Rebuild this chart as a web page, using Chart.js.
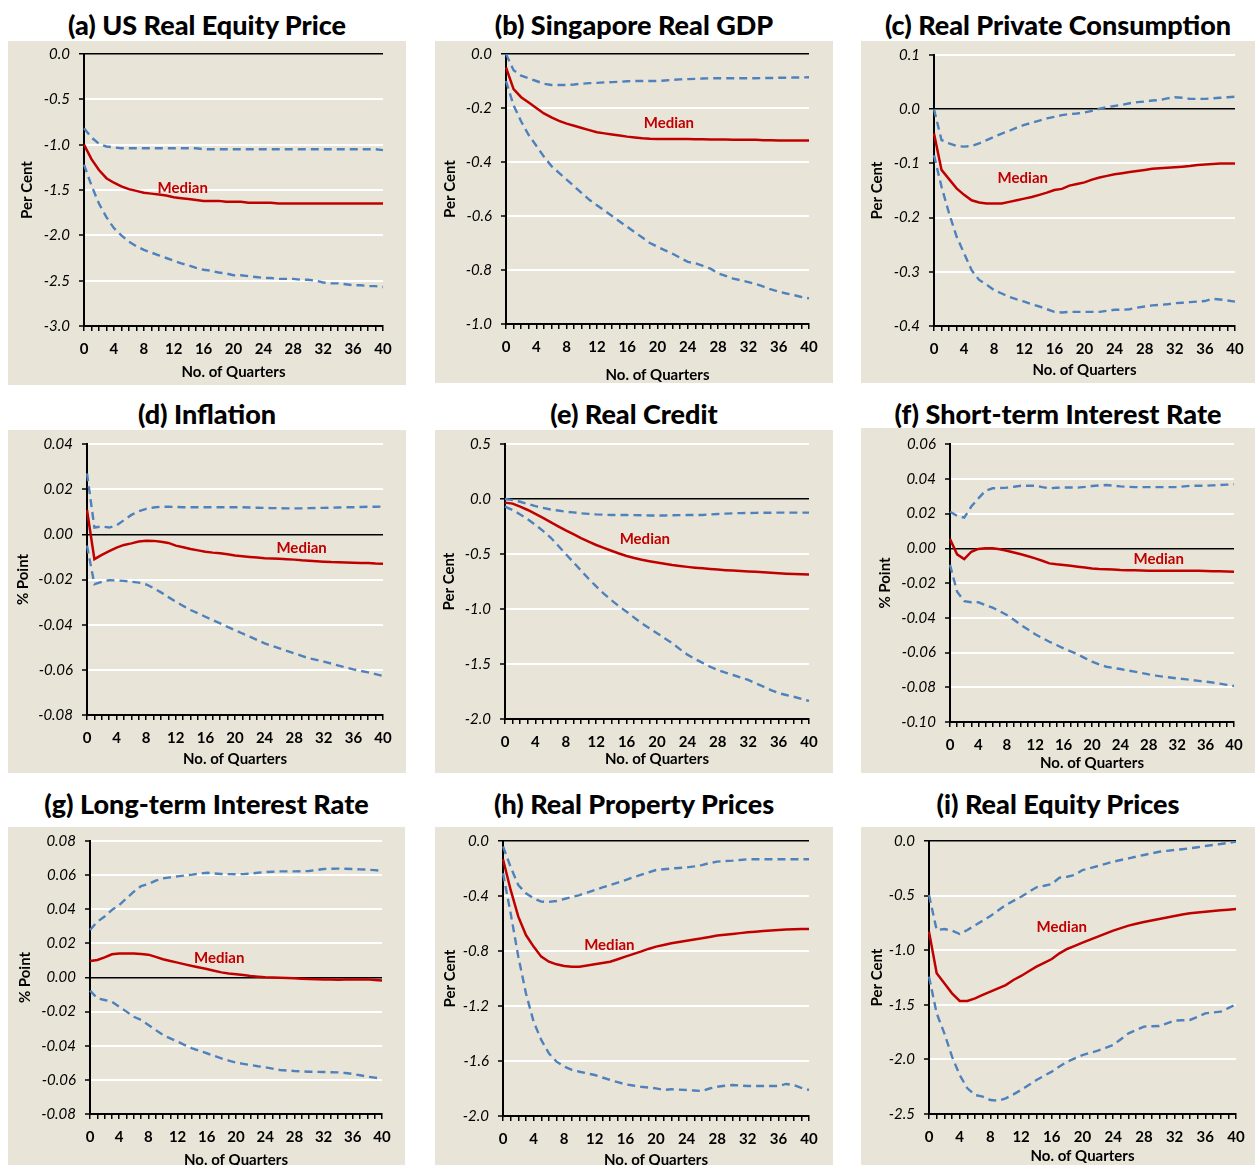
<!DOCTYPE html>
<html>
<head>
<meta charset="utf-8">
<script src="https://cdn.jsdelivr.net/npm/chart.js@4.4.1/dist/chart.umd.min.js"></script>
<style>
  body { margin: 0; background: #fff; width: 1255px; height: 1165px; overflow: hidden; position: relative; font-family: Lato, sans-serif; }
  canvas { position: absolute; background: #E8E5D8; }
  .title { position: absolute; font-weight: 900; font-size: 27px; white-space: nowrap; transform: translate(-50%, -50%); color: #000; }
</style>
</head>
<body>
<script>
// quarters after the shock
const QUARTERS = [0,1,2,3,4,5,6,7,8,9,10,11,12,13,14,15,16,17,18,19,20,21,22,23,24,25,26,27,28,29,30,31,32,33,34,35,36,37,38,39,40];

// (a) US real equity price
const A_UPPER = [-0.82,-0.92,-0.99,-1.02,-1.03,-1.04,-1.04,-1.04,-1.04,-1.04,-1.04,-1.04,-1.04,-1.04,-1.04,-1.04,-1.05,-1.05,-1.05,-1.05,-1.05,-1.05,-1.05,-1.05,-1.05,-1.05,-1.05,-1.05,-1.05,-1.05,-1.05,-1.05,-1.05,-1.05,-1.05,-1.05,-1.05,-1.05,-1.05,-1.05,-1.06];
const A_MEDIAN = [-1.00,-1.16,-1.28,-1.37,-1.42,-1.46,-1.49,-1.51,-1.53,-1.54,-1.55,-1.56,-1.58,-1.59,-1.60,-1.61,-1.62,-1.62,-1.62,-1.63,-1.63,-1.63,-1.64,-1.64,-1.64,-1.64,-1.65,-1.65,-1.65,-1.65,-1.65,-1.65,-1.65,-1.65,-1.65,-1.65,-1.65,-1.65,-1.65,-1.65,-1.65];
const A_LOWER = [-1.22,-1.45,-1.65,-1.80,-1.92,-2.00,-2.07,-2.12,-2.16,-2.19,-2.22,-2.25,-2.28,-2.31,-2.33,-2.36,-2.38,-2.39,-2.41,-2.42,-2.44,-2.44,-2.45,-2.46,-2.47,-2.47,-2.48,-2.48,-2.48,-2.49,-2.49,-2.50,-2.52,-2.53,-2.53,-2.54,-2.55,-2.55,-2.56,-2.56,-2.57];

// (b) Singapore real GDP
const B_UPPER = [0,-0.06,-0.08,-0.09,-0.10,-0.11,-0.115,-0.115,-0.115,-0.113,-0.11,-0.108,-0.107,-0.105,-0.104,-0.103,-0.101,-0.10,-0.10,-0.10,-0.10,-0.098,-0.096,-0.094,-0.093,-0.092,-0.091,-0.09,-0.09,-0.09,-0.09,-0.09,-0.09,-0.09,-0.089,-0.089,-0.088,-0.088,-0.087,-0.087,-0.086];
const B_MEDIAN = [-0.05,-0.13,-0.16,-0.18,-0.20,-0.22,-0.235,-0.248,-0.258,-0.266,-0.274,-0.282,-0.29,-0.294,-0.298,-0.302,-0.306,-0.309,-0.312,-0.314,-0.315,-0.315,-0.315,-0.315,-0.315,-0.316,-0.316,-0.317,-0.317,-0.317,-0.318,-0.318,-0.318,-0.318,-0.319,-0.319,-0.32,-0.32,-0.32,-0.32,-0.32];
const B_LOWER = [-0.10,-0.19,-0.25,-0.30,-0.34,-0.38,-0.415,-0.44,-0.465,-0.49,-0.515,-0.54,-0.56,-0.58,-0.60,-0.62,-0.64,-0.66,-0.68,-0.70,-0.714,-0.727,-0.74,-0.755,-0.77,-0.775,-0.785,-0.795,-0.812,-0.822,-0.832,-0.838,-0.845,-0.852,-0.862,-0.872,-0.88,-0.887,-0.893,-0.90,-0.905];

// (c) real private consumption
const C_UPPER = [0,-0.057,-0.063,-0.068,-0.069,-0.068,-0.063,-0.057,-0.051,-0.045,-0.04,-0.034,-0.029,-0.025,-0.021,-0.017,-0.014,-0.011,-0.009,-0.008,-0.006,-0.003,0.001,0.004,0.006,0.008,0.011,0.013,0.014,0.016,0.017,0.02,0.022,0.021,0.019,0.019,0.019,0.02,0.021,0.022,0.023];
const C_MEDIAN = [-0.045,-0.112,-0.129,-0.146,-0.158,-0.168,-0.172,-0.174,-0.174,-0.174,-0.171,-0.168,-0.165,-0.162,-0.158,-0.154,-0.149,-0.147,-0.141,-0.138,-0.135,-0.13,-0.126,-0.123,-0.12,-0.118,-0.116,-0.114,-0.112,-0.11,-0.109,-0.108,-0.107,-0.106,-0.105,-0.103,-0.102,-0.101,-0.1,-0.1,-0.1];
const C_LOWER = [-0.085,-0.143,-0.192,-0.235,-0.266,-0.297,-0.315,-0.324,-0.334,-0.34,-0.346,-0.351,-0.355,-0.36,-0.364,-0.369,-0.374,-0.375,-0.374,-0.374,-0.374,-0.374,-0.374,-0.372,-0.37,-0.37,-0.369,-0.366,-0.364,-0.362,-0.361,-0.36,-0.358,-0.357,-0.356,-0.355,-0.354,-0.35,-0.351,-0.353,-0.355];

// (d) inflation
const D_UPPER = [0.027,0.003,0.0035,0.003,0.004,0.0063,0.0086,0.0102,0.0113,0.0119,0.0122,0.0122,0.0121,0.012,0.012,0.012,0.012,0.012,0.012,0.012,0.012,0.012,0.0119,0.0118,0.0117,0.0116,0.0116,0.0115,0.0115,0.0115,0.0116,0.0117,0.0117,0.0118,0.0119,0.012,0.012,0.0121,0.0122,0.0122,0.0123];
const D_MEDIAN = [0.0108,-0.011,-0.0091,-0.0074,-0.0059,-0.0047,-0.004,-0.0032,-0.0028,-0.0029,-0.0033,-0.0038,-0.005,-0.0057,-0.0065,-0.0071,-0.0077,-0.0081,-0.0084,-0.0088,-0.0094,-0.0097,-0.01,-0.0103,-0.0106,-0.0107,-0.0108,-0.011,-0.0112,-0.0115,-0.0117,-0.0119,-0.0121,-0.0123,-0.0124,-0.0125,-0.0126,-0.0127,-0.0127,-0.0129,-0.013];
const D_LOWER = [-0.005,-0.0221,-0.021,-0.0203,-0.0204,-0.0206,-0.021,-0.0214,-0.0222,-0.0238,-0.0257,-0.0278,-0.0298,-0.0317,-0.0335,-0.035,-0.0365,-0.038,-0.0394,-0.041,-0.0424,-0.0439,-0.0453,-0.0468,-0.0483,-0.0494,-0.0505,-0.0516,-0.0527,-0.0538,-0.0549,-0.0556,-0.0564,-0.0572,-0.0581,-0.059,-0.0598,-0.0605,-0.0611,-0.0619,-0.0627];

// (e) real credit
const E_UPPER = [0,-0.01,-0.025,-0.045,-0.065,-0.08,-0.095,-0.105,-0.115,-0.122,-0.13,-0.135,-0.14,-0.143,-0.145,-0.146,-0.146,-0.147,-0.148,-0.15,-0.151,-0.15,-0.148,-0.147,-0.146,-0.146,-0.145,-0.14,-0.136,-0.133,-0.13,-0.128,-0.127,-0.126,-0.125,-0.125,-0.124,-0.124,-0.124,-0.124,-0.124];
const E_MEDIAN = [-0.033,-0.042,-0.07,-0.1,-0.135,-0.172,-0.21,-0.248,-0.285,-0.32,-0.355,-0.388,-0.418,-0.445,-0.47,-0.495,-0.518,-0.537,-0.553,-0.566,-0.578,-0.589,-0.6,-0.609,-0.617,-0.624,-0.63,-0.636,-0.642,-0.647,-0.651,-0.655,-0.658,-0.662,-0.666,-0.671,-0.675,-0.679,-0.682,-0.684,-0.686];
const E_LOWER = [-0.07,-0.1,-0.14,-0.185,-0.235,-0.29,-0.35,-0.425,-0.5,-0.575,-0.65,-0.725,-0.795,-0.86,-0.92,-0.975,-1.025,-1.078,-1.13,-1.175,-1.22,-1.265,-1.31,-1.365,-1.415,-1.455,-1.49,-1.525,-1.555,-1.578,-1.6,-1.622,-1.645,-1.675,-1.705,-1.737,-1.765,-1.782,-1.798,-1.818,-1.836];

// (f) short-term interest rate
const F_UPPER = [0.021,0.0187,0.0176,0.024,0.0287,0.0331,0.0345,0.0347,0.0349,0.0354,0.036,0.036,0.036,0.0352,0.0345,0.0348,0.035,0.035,0.0349,0.0353,0.0358,0.0361,0.0364,0.036,0.0356,0.0354,0.0352,0.0352,0.0352,0.0352,0.0352,0.0352,0.0352,0.0356,0.036,0.036,0.036,0.0362,0.0364,0.0366,0.0368];
const F_MEDIAN = [0.0053,-0.0035,-0.0062,-0.002,-0.0004,0,0,-0.0006,-0.0014,-0.0024,-0.0035,-0.0046,-0.0058,-0.0072,-0.0087,-0.0092,-0.0096,-0.0101,-0.0106,-0.0111,-0.0116,-0.0119,-0.0121,-0.0123,-0.0125,-0.0126,-0.0127,-0.0128,-0.0129,-0.0129,-0.0129,-0.0129,-0.0129,-0.013,-0.013,-0.013,-0.0131,-0.0132,-0.0133,-0.0134,-0.0135];
const F_LOWER = [-0.0096,-0.025,-0.0304,-0.0311,-0.0311,-0.0327,-0.0342,-0.0362,-0.0384,-0.0412,-0.0442,-0.0468,-0.0495,-0.0517,-0.0538,-0.0557,-0.0576,-0.0593,-0.0611,-0.0632,-0.0653,-0.0668,-0.0682,-0.0689,-0.0695,-0.0703,-0.071,-0.0718,-0.0726,-0.0733,-0.0739,-0.0744,-0.0749,-0.0753,-0.0758,-0.0763,-0.0768,-0.0773,-0.0779,-0.0786,-0.0793];

// (g) long-term interest rate
const G_UPPER = [0.0278,0.0327,0.0357,0.0396,0.0425,0.0464,0.0503,0.0536,0.0548,0.0568,0.0581,0.0587,0.0593,0.0598,0.0603,0.0609,0.0614,0.061,0.0607,0.0606,0.0605,0.0606,0.0609,0.0614,0.0618,0.062,0.0622,0.0622,0.0622,0.0623,0.0624,0.063,0.0636,0.0637,0.0638,0.0637,0.0636,0.0634,0.0632,0.0629,0.0626];
const G_MEDIAN = [0.0097,0.0103,0.0118,0.0136,0.0141,0.014,0.014,0.0138,0.0134,0.0121,0.0107,0.0097,0.0087,0.0077,0.0067,0.0059,0.005,0.004,0.003,0.0024,0.0019,0.0014,0.0009,0.0005,0.0001,0,-0.0001,-0.0003,-0.0005,-0.0007,-0.0009,-0.001,-0.0011,-0.0012,-0.0013,-0.0012,-0.0011,-0.0011,-0.0011,-0.0014,-0.0017];
const G_LOWER = [-0.0077,-0.0122,-0.0132,-0.0142,-0.0171,-0.02,-0.023,-0.0249,-0.0278,-0.0308,-0.0337,-0.0357,-0.0376,-0.0396,-0.0415,-0.043,-0.0444,-0.0459,-0.0474,-0.0487,-0.0499,-0.0506,-0.0513,-0.052,-0.0526,-0.0534,-0.0542,-0.0545,-0.0548,-0.055,-0.0552,-0.0553,-0.0554,-0.0555,-0.0556,-0.056,-0.0565,-0.0573,-0.0581,-0.0587,-0.0593];

// (h) real property prices
const H_UPPER = [-0.04,-0.19,-0.32,-0.38,-0.417,-0.441,-0.443,-0.436,-0.422,-0.408,-0.393,-0.375,-0.356,-0.338,-0.32,-0.302,-0.284,-0.265,-0.247,-0.229,-0.211,-0.205,-0.2,-0.196,-0.192,-0.185,-0.175,-0.16,-0.15,-0.146,-0.143,-0.138,-0.133,-0.133,-0.133,-0.133,-0.133,-0.133,-0.133,-0.133,-0.133];
const H_MEDIAN = [-0.133,-0.356,-0.55,-0.684,-0.768,-0.841,-0.878,-0.897,-0.909,-0.914,-0.914,-0.906,-0.897,-0.888,-0.878,-0.86,-0.841,-0.823,-0.805,-0.785,-0.768,-0.756,-0.744,-0.734,-0.725,-0.716,-0.708,-0.698,-0.688,-0.682,-0.676,-0.67,-0.664,-0.66,-0.655,-0.651,-0.647,-0.644,-0.641,-0.64,-0.64];
const H_LOWER = [-0.235,-0.526,-0.841,-1.108,-1.314,-1.447,-1.544,-1.605,-1.641,-1.665,-1.678,-1.69,-1.702,-1.72,-1.738,-1.754,-1.77,-1.778,-1.787,-1.793,-1.799,-1.811,-1.806,-1.808,-1.811,-1.815,-1.818,-1.8,-1.787,-1.78,-1.775,-1.778,-1.782,-1.782,-1.782,-1.782,-1.782,-1.767,-1.775,-1.795,-1.811];

// (i) real equity prices
const I_UPPER = [-0.495,-0.815,-0.806,-0.821,-0.852,-0.815,-0.772,-0.73,-0.687,-0.636,-0.586,-0.548,-0.51,-0.467,-0.424,-0.41,-0.394,-0.336,-0.327,-0.311,-0.266,-0.248,-0.229,-0.209,-0.189,-0.174,-0.159,-0.143,-0.128,-0.113,-0.098,-0.09,-0.082,-0.075,-0.067,-0.057,-0.046,-0.036,-0.027,-0.017,-0.006];
const I_MEDIAN = [-0.83,-1.212,-1.303,-1.395,-1.465,-1.465,-1.441,-1.41,-1.38,-1.35,-1.319,-1.273,-1.236,-1.193,-1.151,-1.116,-1.081,-1.029,-0.989,-0.96,-0.931,-0.903,-0.876,-0.848,-0.821,-0.798,-0.775,-0.758,-0.742,-0.728,-0.714,-0.7,-0.687,-0.674,-0.662,-0.654,-0.647,-0.641,-0.635,-0.629,-0.623];
const I_LOWER = [-1.242,-1.578,-1.761,-1.975,-2.143,-2.265,-2.326,-2.341,-2.372,-2.378,-2.357,-2.32,-2.28,-2.235,-2.189,-2.15,-2.112,-2.065,-2.021,-1.99,-1.96,-1.94,-1.92,-1.894,-1.868,-1.815,-1.761,-1.73,-1.7,-1.697,-1.694,-1.67,-1.645,-1.642,-1.639,-1.61,-1.578,-1.57,-1.563,-1.53,-1.496];

// y axis ranges: [min, max, step, decimals]
const Y_A = [-3, 0, 0.5, 1];
const Y_B = [-1, 0, 0.2, 1];
const Y_C = [-0.4, 0.1, 0.1, 1];
const Y_D = [-0.08, 0.04, 0.02, 2];
const Y_E = [-2, 0.5, 0.5, 1];
const Y_F = [-0.1, 0.06, 0.02, 2];
const Y_G = [-0.08, 0.08, 0.02, 2];
const Y_H = [-2, 0, 0.4, 1];
const Y_I = [-2.5, 0, 0.5, 1];

const RED = '#C00000';
const BLUE = '#4F81BD';
const FONT = 'Lato';

// box: canvas rect, plot: chart area corners, xt: x-title centre from bottom, yt: y-title centre from left
const panels = [
  { title: '(a) US Real Equity Price', unit: 'Per Cent', y: Y_A, up: A_UPPER, med: A_MEDIAN, lo: A_LOWER, lab: [13.2, -1.48],
    box: [8, 41, 398, 344], plot: [84, 54, 383, 326], tY: 24, xt: 13, yt: 19 },
  { title: '(b) Singapore Real GDP', unit: 'Per Cent', y: Y_B, up: B_UPPER, med: B_MEDIAN, lo: B_LOWER, lab: [21.5, -0.256],
    box: [435, 41, 398, 342], plot: [506, 54, 809, 324], tY: 24, xt: 8, yt: 15 },
  { title: '(c) Real Private Consumption', unit: 'Per Cent', y: Y_C, up: C_UPPER, med: C_MEDIAN, lo: C_LOWER, lab: [11.8, -0.127],
    box: [861, 41, 394, 342], plot: [934, 55, 1235, 326], tY: 24, xt: 13, yt: 16 },
  { title: '(d) Inflation', unit: '% Point', y: Y_D, up: D_UPPER, med: D_MEDIAN, lo: D_LOWER, lab: [29.0, -0.006],
    box: [8, 430, 398, 343], plot: [87, 444, 383, 715], tY: 413, xt: 14, yt: 15 },
  { title: '(e) Real Credit', unit: 'Per Cent', y: Y_E, up: E_UPPER, med: E_MEDIAN, lo: E_LOWER, lab: [18.4, -0.364],
    box: [435, 430, 398, 343], plot: [505, 444, 809, 719], tY: 413, xt: 14, yt: 14 },
  { title: '(f) Short-term Interest Rate', unit: '% Point', y: Y_F, up: F_UPPER, med: F_MEDIAN, lo: F_LOWER, lab: [29.4, -0.0062],
    box: [861, 428, 394, 345], plot: [950, 444, 1234, 722], tY: 413, xt: 10, yt: 24 },
  { title: '(g) Long-term Interest Rate', unit: '% Point', y: Y_G, up: G_UPPER, med: G_MEDIAN, lo: G_LOWER, lab: [17.7, 0.0114],
    box: [8, 827, 397, 350], plot: [90, 841, 382, 1114], tY: 803, xt: 17, yt: 17 },
  { title: '(h) Real Property Prices', unit: 'Per Cent', y: Y_H, up: H_UPPER, med: H_MEDIAN, lo: H_LOWER, lab: [13.9, -0.756],
    box: [435, 827, 398, 350], plot: [503, 841, 809, 1116], tY: 803, xt: 17, yt: 15 },
  { title: '(i) Real Equity Prices', unit: 'Per Cent', y: Y_I, up: I_UPPER, med: I_MEDIAN, lo: I_LOWER, lab: [17.3, -0.787],
    box: [861, 827, 394, 350], plot: [929, 841, 1236, 1114], tY: 803, xt: 21, yt: 16 }
];

const medianLabel = {
  id: 'medianLabel',
  afterDatasetsDraw(chart, args, opts) {
    const { ctx, scales: { x, y } } = chart;
    ctx.save();
    ctx.font = 'bold 15px ' + FONT;
    ctx.fillStyle = RED;
    ctx.textAlign = 'center';
    ctx.textBaseline = 'middle';
    ctx.fillText('Median', x.getPixelForValue(opts.at[0]), y.getPixelForValue(opts.at[1]));
    ctx.restore();
  }
};

panels.forEach(p => {
  const [bx, by, bw, bh] = p.box;
  const [pl, pt, pr, pb] = p.plot;

  const t = document.createElement('div');
  t.className = 'title';
  t.textContent = p.title;
  t.style.left = (bx + bw / 2) + 'px';
  t.style.top = p.tY + 'px';
  document.body.appendChild(t);

  const cv = document.createElement('canvas');
  cv.width = bw; cv.height = bh;
  cv.style.left = bx + 'px'; cv.style.top = by + 'px';
  cv.style.width = bw + 'px'; cv.style.height = bh + 'px';
  document.body.appendChild(cv);

  const [ymin, ymax, ystep, dec] = p.y;
  const isZero = v => Math.abs(v) < 1e-9;

  new Chart(cv, {
    type: 'line',
    data: {
      labels: QUARTERS,
      datasets: [
        { data: p.up, borderColor: BLUE, borderWidth: 2.4, borderDash: [8, 5], pointRadius: 0, tension: 0 },
        { data: p.lo, borderColor: BLUE, borderWidth: 2.4, borderDash: [8, 5], pointRadius: 0, tension: 0 },
        { data: p.med, borderColor: RED, borderWidth: 2.5, pointRadius: 0, tension: 0 }
      ]
    },
    options: {
      responsive: false,
      animation: false,
      events: [],
      layout: { padding: { top: pt - by, right: bx + bw - pr, left: 0, bottom: 0 } },
      plugins: {
        legend: { display: false },
        tooltip: { enabled: false },
        medianLabel: { at: p.lab }
      },
      scales: {
        x: {
          grid: { drawOnChartArea: false, drawTicks: true, tickLength: 5, color: '#000', lineWidth: 1.5 },
          border: { color: '#000', width: 2 },
          ticks: {
            autoSkip: false, maxRotation: 0, minRotation: 0, padding: 9, color: '#000',
            font: { family: FONT, weight: 'bold', size: 15 },
            callback: (v, i) => (i % 4 === 0 ? String(QUARTERS[i]) : '')
          },
          title: {
            display: true, text: 'No. of Quarters', color: '#000',
            font: { family: FONT, weight: 'bold', size: 15 },
            padding: { top: 0, bottom: p.xt - 9 }
          },
          afterFit: s => { s.height = by + bh - pb; s.paddingLeft = 0; s.paddingRight = 0; }
        },
        y: {
          min: ymin, max: ymax,
          grid: {
            color: c => (isZero(c.tick.value) ? '#000' : '#fff'),
            lineWidth: c => (isZero(c.tick.value) ? 1.5 : 2),
            tickColor: '#000', tickWidth: 1.5, tickLength: 5
          },
          border: { color: '#000', width: 2 },
          ticks: {
            stepSize: ystep, padding: 9, color: '#000',
            font: { family: FONT, style: 'italic', size: 15 },
            callback: v => Number(v).toFixed(dec)
          },
          title: {
            display: true, text: p.unit, color: '#000',
            font: { family: FONT, weight: 'bold', size: 15 },
            padding: { top: p.yt - 9, bottom: 0 }
          },
          afterFit: s => { s.width = pl - bx; s.paddingTop = 0; s.paddingBottom = 0; }
        }
      }
    },
    plugins: [medianLabel]
  });
});
</script>
</body>
</html>
